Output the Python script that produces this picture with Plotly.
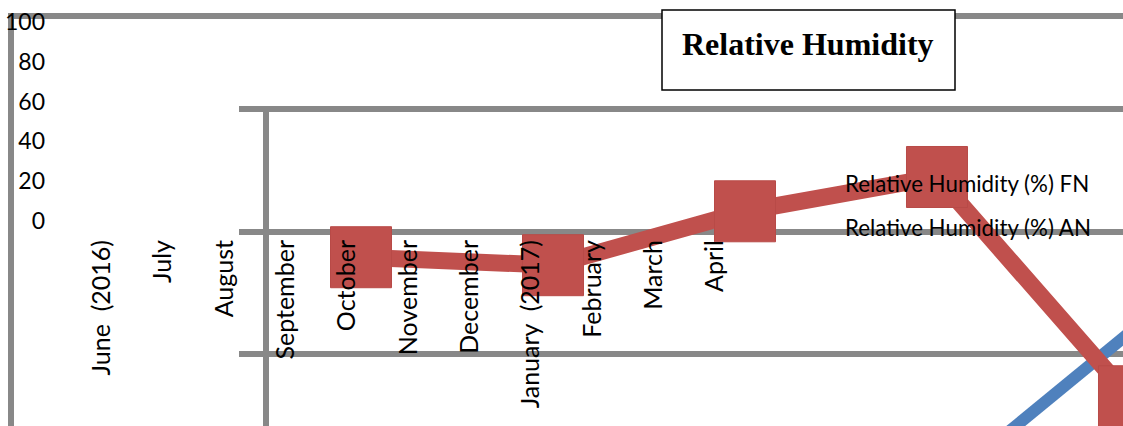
import plotly.graph_objects as go

W, H = 1123, 426

# Month categories along the lower axis
months = ["June\u00a0\u00a0(2016)", "July", "August", "September", "October",
          "November", "December", "January\u00a0\u00a0(2017)", "February",
          "March", "April"]
scale_ticks = [0, 20, 40, 60, 80, 100]

# Quarterly readings (index along the inner category axis)
fn_index = [0, 1, 2, 3, 4]
fn_values = [55.8, 54.5, 63.3, 68.9, 33.1]
an_index = [3, 4]
an_values = [17.7, 43.4]

series_names = ["Relative Humidity (%) FN", "Relative Humidity (%) AN"]
chart_title = "Relative Humidity"

GRAY = "#888888"
RED = "#C0504D"
BLUE = "#4F81BD"
SANS = "Lato"


def px(x):
    return x / W


def py(y):
    return 1 - y / H


fig = go.Figure()

fig.add_trace(go.Scatter(
    x=an_index, y=an_values, name=series_names[1], mode="lines",
    line=dict(color=BLUE, width=12), xaxis="x", yaxis="y",
    showlegend=False, hoverinfo="skip"))

fig.add_trace(go.Scatter(
    x=fn_index, y=fn_values, name=series_names[0], mode="lines+markers",
    line=dict(color=RED, width=17),
    marker=dict(symbol="square", size=61, color=RED,
                line=dict(color="#B84A47", width=1)),
    xaxis="x", yaxis="y", showlegend=False, hoverinfo="skip"))

# empty trace that registers the month categories on the label axes
fig.add_trace(go.Scatter(
    x=months, y=[None] * len(months), mode="markers",
    marker=dict(opacity=0), xaxis="x2", yaxis="y2",
    showlegend=False, hoverinfo="skip"))

fig.update_layout(
    width=W, height=H,
    margin=dict(l=0, r=0, t=0, b=0, autoexpand=False),
    paper_bgcolor="white", plot_bgcolor="rgba(0,0,0,0)",
    showlegend=False,
    # inner plotting area carrying the series
    xaxis=dict(domain=[px(269), 1], range=[-0.4792, 3.9688],
               showgrid=False, zeroline=False, showline=False,
               showticklabels=False, ticks="", anchor="y", automargin=False),
    yaxis=dict(domain=[0, py(106)], range=[28.245, 80.49],
               tickvals=[40, 60, 80], showticklabels=False,
               showgrid=True, gridcolor=GRAY, gridwidth=6,
               ticks="outside", ticklen=24, tickwidth=6, tickcolor=GRAY,
               showline=True, linewidth=6, linecolor=GRAY,
               zeroline=False, anchor="x", automargin=False),
    # month labels and 0-100 scale
    xaxis2=dict(domain=[px(50), 1], range=[-0.848, 16.656], anchor="y2",
                type="category",
                tickangle=-90, ticks="", ticklabelstandoff=13,
                tickfont=dict(family=SANS, size=25, color="black"),
                showgrid=False, zeroline=False, showline=False,
                automargin=False),
    yaxis2=dict(domain=[py(221), py(22)], range=[0, 100], anchor="x2",
                tickvals=scale_ticks, ticks="", ticklabelstandoff=4,
                tickfont=dict(family=SANS, size=23, color="black"),
                showgrid=False, zeroline=False, showline=False,
                automargin=False),
)

shapes = [
    dict(type="line", xref="paper", yref="paper", x0=px(8), x1=1,
         y0=py(16), y1=py(16), line=dict(color=GRAY, width=6), layer="below"),
    dict(type="line", xref="paper", yref="paper", x0=px(11), x1=px(11),
         y0=py(13), y1=0, line=dict(color=GRAY, width=6), layer="below"),
    dict(type="rect", xref="paper", yref="paper", x0=px(662), x1=px(955),
         y0=py(90), y1=py(10), fillcolor="white",
         line=dict(color="black", width=1.5), layer="above"),
]
fig.update_layout(shapes=shapes)

fig.add_annotation(x=px(808), y=py(44), xref="paper", yref="paper",
                   text="<b>" + chart_title + "</b>", showarrow=False,
                   xanchor="center", yanchor="middle",
                   font=dict(family="Liberation Serif", size=32, color="black"))
for name, ypix in zip(series_names, [183, 228]):
    fig.add_annotation(x=px(843), y=py(ypix), xref="paper", yref="paper",
                       text=name, showarrow=False, xanchor="left",
                       yanchor="middle",
                       font=dict(family=SANS, size=22.3, color="black"))

fig.write_html("out.html")
